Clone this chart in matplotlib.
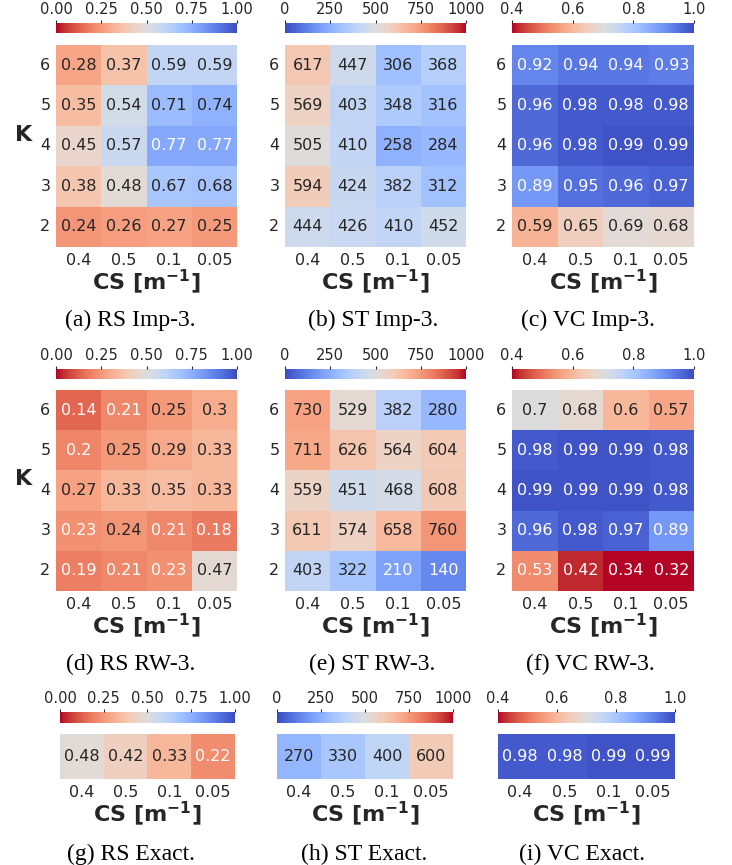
import numpy as np
import matplotlib
matplotlib.use("Agg")
import matplotlib.pyplot as plt
from matplotlib.ticker import FormatStrFormatter
import seaborn as sns

W, H = 732, 865

# axis labels
cs_labels = ["0.4", "0.5", "0.1", "0.05"]
k_labels = ["6", "5", "4", "3", "2"]

# rows: K = 6, 5, 4, 3, 2 ; columns: CS = 0.4, 0.5, 0.1, 0.05
rs_imp3 = [[0.28, 0.37, 0.59, 0.59],
           [0.35, 0.54, 0.71, 0.74],
           [0.45, 0.57, 0.77, 0.77],
           [0.38, 0.48, 0.67, 0.68],
           [0.24, 0.26, 0.27, 0.25]]
st_imp3 = [[617, 447, 306, 368],
           [569, 403, 348, 316],
           [505, 410, 258, 284],
           [594, 424, 382, 312],
           [444, 426, 410, 452]]
vc_imp3 = [[0.92, 0.94, 0.94, 0.93],
           [0.96, 0.98, 0.98, 0.98],
           [0.96, 0.98, 0.99, 0.99],
           [0.89, 0.95, 0.96, 0.97],
           [0.59, 0.65, 0.69, 0.68]]

rs_rw3 = [[0.14, 0.21, 0.25, 0.3],
          [0.2, 0.25, 0.29, 0.33],
          [0.27, 0.33, 0.35, 0.33],
          [0.23, 0.24, 0.21, 0.18],
          [0.19, 0.21, 0.23, 0.47]]
st_rw3 = [[730, 529, 382, 280],
          [711, 626, 564, 604],
          [559, 451, 468, 608],
          [611, 574, 658, 760],
          [403, 322, 210, 140]]
vc_rw3 = [[0.7, 0.68, 0.6, 0.57],
          [0.98, 0.99, 0.99, 0.98],
          [0.99, 0.99, 0.99, 0.98],
          [0.96, 0.98, 0.97, 0.89],
          [0.53, 0.42, 0.34, 0.32]]

rs_exact = [[0.48, 0.42, 0.33, 0.22]]
st_exact = [[270, 330, 400, 600]]
vc_exact = [[0.98, 0.98, 0.99, 0.99]]

plt.rcParams["text.color"] = "0.15"
plt.rcParams["axes.labelcolor"] = "0.15"
plt.rcParams["xtick.color"] = "0.15"
plt.rcParams["ytick.color"] = "0.15"

# cmap, vmin, vmax, colorbar ticks, tick format
styles = {
    "RS": ("coolwarm_r", 0.0, 1.0, [0, 0.25, 0.5, 0.75, 1.0], "%.2f"),
    "ST": ("coolwarm", 0, 1000, [0, 250, 500, 750, 1000], "%d"),
    "VC": ("coolwarm_r", 0.4, 1.0, [0.4, 0.6, 0.8, 1.0], "%.1f"),
}


def px_box(x0, y0, x1, y1):
    return [x0 / W, 1 - y1 / H, (x1 - x0) / W, (y1 - y0) / H]


# data, metric, caption, heatmap x-range, heatmap y-range, colorbar y-range, caption centre, show K
panels = [
    (rs_imp3, "RS", "(a) RS Imp-3.", (56, 237), (45, 247), (23, 33), (130, 320), True),
    (st_imp3, "ST", "(b) ST Imp-3.", (285, 466), (45, 247), (23, 33), (373, 320), False),
    (vc_imp3, "VC", "(c) VC Imp-3.", (512, 694), (45, 247), (23, 33), (588, 320), False),
    (rs_rw3, "RS", "(d) RS RW-3.", (56, 237), (390, 591), (369, 379), (131, 664), True),
    (st_rw3, "ST", "(e) ST RW-3.", (285, 466), (390, 591), (369, 379), (372, 664), False),
    (vc_rw3, "VC", "(f) VC RW-3.", (512, 694), (390, 591), (369, 379), (590, 664), False),
    (rs_exact, "RS", "(g) RS Exact.", (60, 235), (734, 779), (712, 723), (131, 854), None),
    (st_exact, "ST", "(h) ST Exact.", (277, 453), (734, 779), (712, 723), (364, 854), None),
    (vc_exact, "VC", "(i) VC Exact.", (498, 675), (734, 779), (712, 723), (582, 854), None),
]

fig = plt.figure(figsize=(W / 100, H / 100), dpi=100)

for data, metric, caption, (x0, x1), (y0, y1), (cy0, cy1), (tx, ty), show_k in panels:
    cmap, vmin, vmax, ticks, fmt = styles[metric]
    ax = fig.add_axes(px_box(x0, y0, x1, y1))
    cax = fig.add_axes(px_box(x0, cy0, x1, cy1))
    sns.heatmap(np.array(data), ax=ax, cbar_ax=cax, cmap=cmap, vmin=vmin, vmax=vmax,
                annot=True, fmt="g", annot_kws={"size": 11.5},
                xticklabels=cs_labels,
                yticklabels=k_labels if show_k is not None else False,
                cbar_kws={"orientation": "horizontal", "ticks": ticks})
    cax.xaxis.set_ticks_position("top")
    cax.xaxis.set_major_formatter(FormatStrFormatter(fmt))
    cax.tick_params(length=2.2, width=0.8, pad=2.2, labelsize=10.5, color="0.15")

    ax.tick_params(length=0, labelsize=11.5, pad=4)
    plt.setp(ax.get_xticklabels(), rotation=0)
    if show_k is not None:
        plt.setp(ax.get_yticklabels(), rotation=0)

    ax.set_xlabel(r"CS [m$^{\mathbf{-1}}$]", fontsize=16, fontweight="bold", va="center")
    ax.xaxis.set_label_coords(0.5, -(35 / (y1 - y0)))
    if show_k:
        ax.set_ylabel("K", rotation=0, fontsize=16, fontweight="bold", va="center", ha="center")
        ax.yaxis.set_label_coords(-0.18, 0.555)

    fig.text(tx / W, 1 - ty / H, caption, ha="center", va="center",
             fontsize=17, family="Liberation Serif", color="black")

fig.savefig("out.png", dpi=100)
